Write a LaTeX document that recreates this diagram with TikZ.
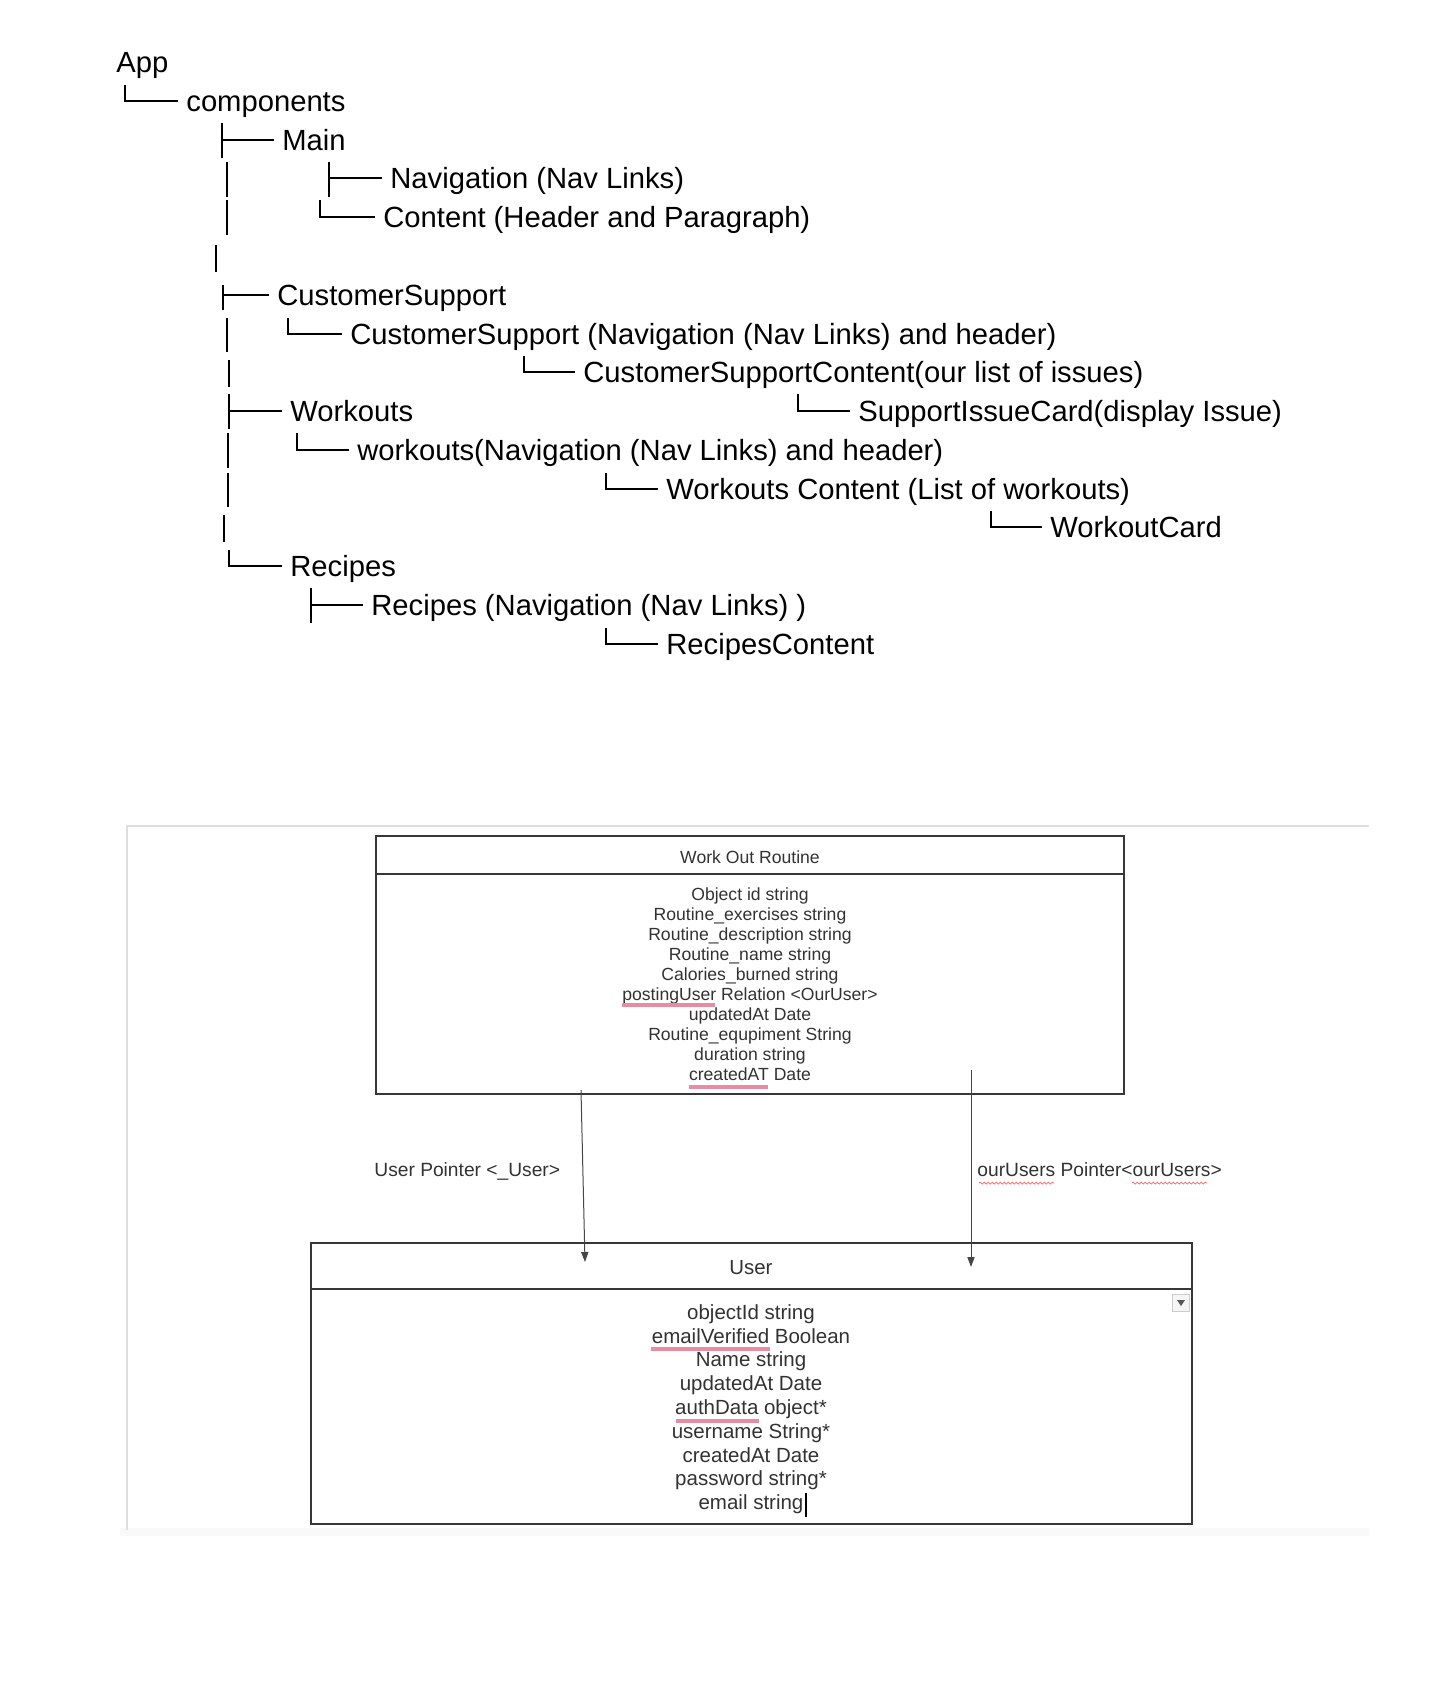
\documentclass[tikz,border=0pt]{standalone}
\usepackage{fontspec}
\setmainfont{Liberation Sans}
\usepackage{xcolor}
\usepackage{tikz}
\usetikzlibrary{shapes,arrows.meta,decorations.pathmorphing}

\definecolor{spellpink}{RGB}{230,140,165}
\definecolor{umlline}{RGB}{55,55,55}
\definecolor{umltext}{RGB}{50,50,50}

\begin{document}
\begin{tikzpicture}[x=0.5pt,y=-0.5pt]
\tikzstyle{bar}=[line width=0.9pt]
\tikzstyle{branch}=[bar, shorten >=4pt]
\tikzstyle{item}=[anchor=base west, inner sep=0pt, text height=12pt, text depth=2pt, font=\fontsize{14.6}{17}\selectfont]
\tikzstyle{frame}=[draw=gray!25, line width=0.6pt]
\tikzstyle{umlbox}=[draw=umlline, line width=0.75pt]
\tikzstyle{title}=[anchor=base, inner sep=0pt, text=umltext]
\tikzstyle{fields}=[anchor=north, inner sep=0pt, align=center, text=umltext]
\tikzstyle{lbl}=[anchor=base west, inner sep=0pt, text=umltext, font=\fontsize{9.6}{11}\selectfont]
\tikzstyle{ptr}=[draw=gray!55!black, line width=0.5pt, -{Triangle[length=5pt,width=3.6pt]}]
\tikzstyle{spell}=[draw=spellpink, line width=1.6pt]
\tikzstyle{squiggle}=[draw=red!60, line width=0.35pt, decorate, decoration={snake, amplitude=0.5pt, segment length=2pt}]
\useasboundingbox (0,0) rectangle (1454,1688);

% component tree
\node[item] (app) at (116,72) {App};
\node[item] (comp) at (186,111) {components};
\node[item] (main) at (282,150) {Main};
\node[item] (mainnav) at (390,188) {Navigation (Nav Links)};
\node[item] (maincont) at (383,227) {Content (Header and Paragraph)};
\node[item] (cs) at (277,305) {CustomerSupport};
\node[item] (csnav) at (350,344) {CustomerSupport (Navigation (Nav Links) and header)};
\node[item] (cscont) at (583,382) {CustomerSupportContent(our list of issues)};
\node[item] (wk) at (290,421) {Workouts};
\node[item] (sic) at (858,421) {SupportIssueCard(display Issue)};
\node[item] (wknav) at (357,460) {workouts(Navigation (Nav Links) and header)};
\node[item] (wkcont) at (666,499) {Workouts Content (List of workouts)};
\node[item] (wcard) at (1050,537) {WorkoutCard};
\node[item] (rec) at (290,576) {Recipes};
\node[item] (recnav) at (371,615) {Recipes (Navigation (Nav Links) )};
\node[item] (reccont) at (666,654) {RecipesContent};

\draw[branch] (125,85) |- (comp.west);
\draw[branch] (222,123) -- (222,158) (222,123) |- (main.west);
\draw[bar] (227,162) -- (227,197);
\draw[bar] (227,200) -- (227,235);
\draw[branch] (329,162) -- (329,197) (329,162) |- (mainnav.west);
\draw[branch] (320,200) |- (maincont.west);
\draw[bar] (216,245) -- (216,272);
\draw[branch] (223,285) -- (223,310) (223,285) |- (cs.west);
\draw[bar] (227,318) -- (227,352);
\draw[branch] (288,318) |- (csnav.west);
\draw[bar] (229,360) -- (229,387);
\draw[branch] (524,356) |- (cscont.west);
\draw[branch] (229,394) -- (229,429) (229,394) |- (wk.west);
\draw[branch] (798,394) |- (sic.west);
\draw[bar] (228,433) -- (228,468);
\draw[branch] (297,433) |- (wknav.west);
\draw[bar] (228,473) -- (228,507);
\draw[branch] (606,473) |- (wkcont.west);
\draw[bar] (224,515) -- (224,542);
\draw[branch] (991,511) |- (wcard.west);
\draw[branch] (229,550) |- (rec.west);
\draw[branch] (311,588) -- (311,623) (311,588) |- (recnav.west);
\draw[branch] (606,628) |- (reccont.west);

% schema
\fill[gray!5] (120,1528) rectangle (1369,1536);
\path[frame] (1369,826) -- (127,826) -- (127,1530);

\path[umlbox] (376,836) rectangle (1124,1094);
\path[umlbox] (376,874) -- (1124,874);
\node[title, font=\fontsize{8.8}{10}\selectfont] (wortitle) at (750,863) {Work Out Routine};
\node[fields, font=\fontsize{8.8}{10}\selectfont] (worfields) at (750,887) {Object id string\\Routine\_exercises string\\Routine\_description string\\Routine\_name string\\Calories\_burned string\\postingUser Relation <OurUser>\\updatedAt Date\\Routine\_equpiment String\\duration string\\createdAT Date};

\path[umlbox] (311,1243) rectangle (1192,1524);
\path[umlbox] (311,1289) -- (1192,1289);
\node[title, font=\fontsize{10.2}{12}\selectfont] (usrtitle) at (751,1274) {User};
\node[fields, font=\fontsize{10.25}{11.9}\selectfont] (usrfields) at (751,1304) {objectId string\\emailVerified Boolean\\Name string\\updatedAt Date\\authData object*\\username String*\\createdAt Date\\password string*\\email string};

\coordinate (wor1) at (581,1090);
\coordinate (usr1) at (585,1262);
\coordinate (wor2) at (971,1070);
\coordinate (usr2) at (971,1267);
\draw[ptr] (wor1) -- (usr1);
\draw[ptr] (wor2) -- (usr2);
\node[lbl] (userptr) at (374,1176) {User Pointer <\_User>};
\node[lbl] (ourptr) at (977,1176) {ourUsers Pointer<ourUsers>};

\path[squiggle] (979,1183) -- (1054,1183);
\path[squiggle] (1132,1183) -- (1207,1183);
\path[spell] (622,1005) -- (715,1005);
\path[spell] (689,1087) -- (768,1087);
\path[spell] (651,1349) -- (770,1349);
\path[spell] (676,1421) -- (759,1421);

% dropdown and cursor
\path[draw=gray!40, fill=gray!8] (1172,1294) rectangle (1189,1311);
\fill[gray!70!black] (1177,1300) -- (1185,1300) -- (1181,1306) -- cycle;
\draw[line width=1pt] (806,1493) -- (806,1517);
\end{tikzpicture}
\end{document}
